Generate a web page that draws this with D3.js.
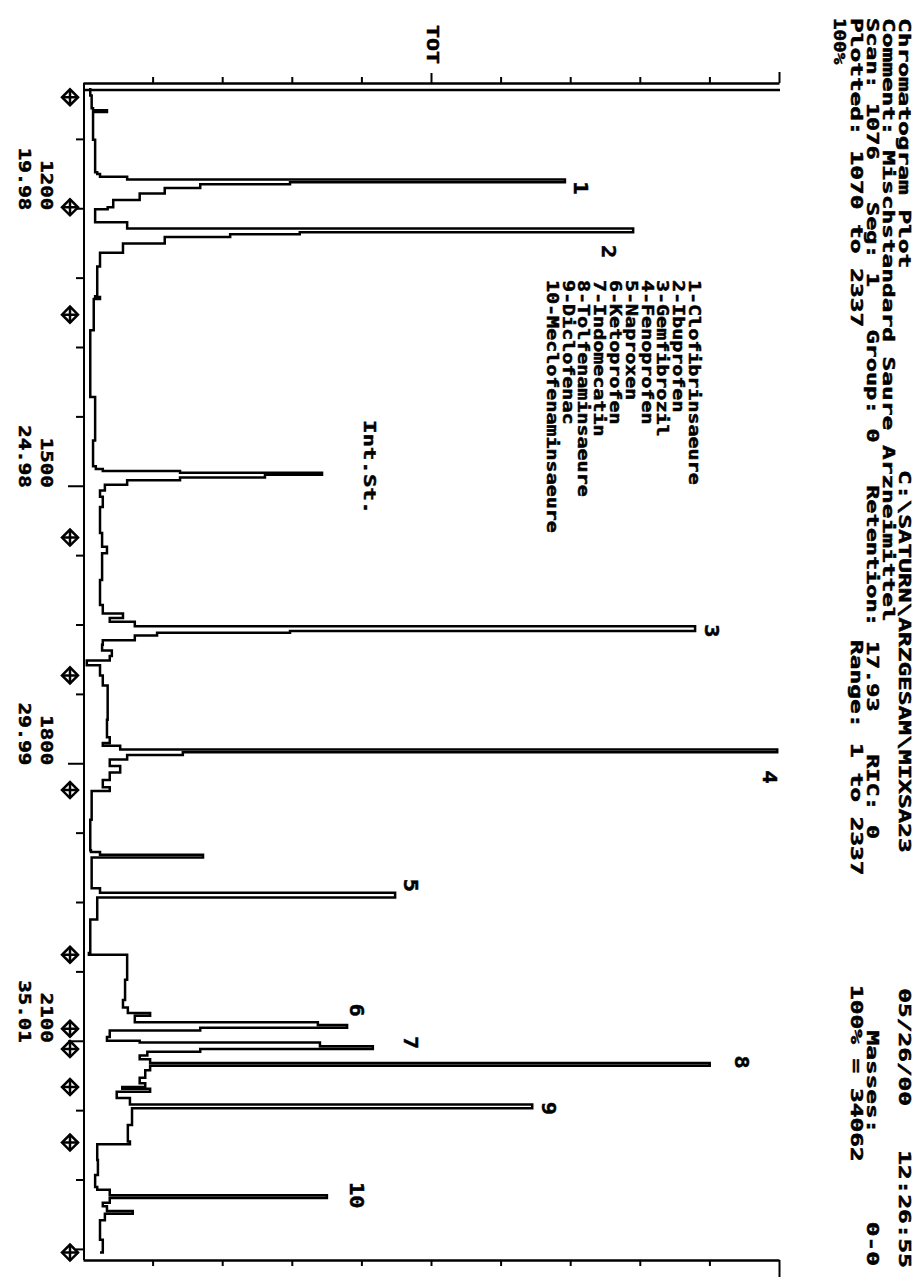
<!DOCTYPE html>
<html>
<head>
<meta charset="utf-8">
<script src="https://cdn.jsdelivr.net/npm/d3@7/dist/d3.min.js"></script>
<style>
  body { margin: 0; background: #fff; }
  svg { display: block; }
  text { font-family: "DejaVu Sans Mono", monospace; font-weight: bold; fill: #000;
         stroke: #000; stroke-width: 0.5; white-space: pre; }
</style>
</head>
<body>
<svg id="chart" width="922" height="1280"></svg>
<script>
// total ion trace (scan number, % of full scale)
const scans = [1070,1078,1092,1094,1096,1126,1161,1163,1166,1169,1172,1174,1178,1184,1191,1199,1201,1213,
  1215,1222,1226,1228,1231,1238,1248,1263,1295,1296,1298,1332,1404,1451,1479,1482,1484,1486,1488,1491,
  1494,1499,1505,1512,1523,1551,1566,1573,1602,1629,1638,1643,1647,1652,1657,1659,1662,1667,1672,1678,
  1684,1689,1694,1705,1716,1732,1753,1772,1778,1781,1785,1788,1791,1796,1803,1810,1818,1826,1830,1861,
  1894,1896,1899,1902,1932,1935,1940,1945,1969,2005,2007,2034,2056,2064,2070,2073,2077,2080,2083,2086,
  2089,2096,2100,2102,2106,2109,2112,2116,2120,2124,2127,2132,2140,2146,2150,2152,2155,2162,2165,2169,
  2173,2191,2209,2212,2229,2245,2258,2261,2267,2270,2275,2279,2284,2287,2294,2315,2329];
const tot = [0.9,1.1,1.3,3.3,1.3,1.6,1.9,2.3,6.2,69.1,29.6,16.7,11.6,8.0,4.2,3.4,1.6,1.6,
  6.2,78.9,31.0,21.0,11.6,5.6,2.3,1.9,1.6,2.3,1.4,0.9,1.6,1.3,1.7,2.7,13.8,34.2,26.0,13.8,
  6.2,3.0,2.3,2.7,2.3,2.6,3.3,2.6,2.3,2.7,5.6,3.7,7.3,87.8,29.6,10.5,7.3,2.7,2.6,4.0,
  3.7,0.4,2.3,2.7,3.4,3.4,3.3,3.7,2.7,5.2,99.6,14.2,6.2,3.7,5.2,3.7,2.7,3.7,1.1,0.9,
  1.0,2.3,17.1,1.1,1.1,2.3,44.7,1.9,0.9,0.7,6.2,5.9,5.6,6.3,9.5,7.3,7.3,33.6,37.8,16.7,
  3.7,3.3,8.0,33.9,41.5,16.7,9.1,8.0,9.5,89.9,9.5,8.8,8.0,8.8,5.5,9.5,4.7,6.6,6.6,64.4,
  6.9,6.3,6.6,1.9,2.0,1.6,1.9,3.7,34.9,3.7,2.7,3.3,7.0,3.0,2.3,2.7,2.3];

// peak numbers and where they are written (scan, %)
const peakIds = ["1","2","3","4","5","6","7","8","9","10"];
const peakLabelScan = [1178,1247,1657,1815,1932,2067,2102,2123,2173,2267];
const peakLabelPct = [71.4,75.4,90.2,98.6,47.0,39.2,47.0,94.5,66.8,39.2];

const compounds = ["1-Clofibrinsaeure","2-Ibuprofen","3-Gemfibrozil","4-Fenoprofen","5-Naproxen",
  "6-Ketoprofen","7-Indomecatin","8-Tolfenaminsaeure","9-Diclofenac","10-Meclofenaminsaeure"];

const markerScans = [1080,1199,1315,1556,1705,1829,2007,2087,2109,2150,2210,2329];

const scanMajor = [1200,1500,1800,2100];
const timeLabels = ["19.98","24.98","29.99","35.01"];
const scanMinor = [1125,1275,1350,1425,1575,1650,1725,1875,1950,2025,2175,2250,2325];
const pctTicks = [10,20,30,40,50,60,70,80,90,100];

// the plot is drawn lying on its side: build it landscape, then turn it 90 degrees
const svg = d3.select('#chart');
const g = svg.append('g').attr('transform', 'translate(922,0) rotate(90)');

const x = d3.scaleLinear().domain([1070, 2337]).range([88, 1260]);
const y = d3.scaleLinear().domain([0, 100]).range([838, 142]);

function txt(str, u, v, sx, size, anchor) {
  return g.append('text')
    .attr('xml:space', 'preserve')
    .attr('transform', 'translate(' + u + ',' + v + ') scale(' + sx + ',1)')
    .attr('font-size', size)
    .attr('text-anchor', anchor || 'start')
    .text(str);
}

// header block
txt('Chromatogram Plot', 18, 23, 1.53, 16);
txt('C:\\SATURN\\ARZGESAM\\MIXSA23', 470, 23, 1.53, 16);
txt('05/26/00   12:26:55', 1268, 23, 1.53, 16, 'end');
txt('Comment: Mischstandard Saure Arzneimittel', 18, 39, 1.53, 16);
txt('Scan: 1076   Seg: 1   Group: 0   Retention: 17.93   RIC: 0', 18, 55, 1.47, 16);
txt('Masses:      0-0', 1266, 55, 1.53, 16, 'end');
txt('Plotted: 1070 to 2337', 18, 71, 1.53, 16);
txt('Range: 1 to 2337', 640, 71, 1.53, 16);
txt('100% = 34062', 985, 71, 1.53, 16);
txt('100%', 18, 88, 1.2, 16);
txt('TOT', 25, 495, 1.35, 16);

// scan axis (left side of the picture)
g.append('line')
  .attr('x1', 83).attr('x2', 1260)
  .attr('y1', y(0)).attr('y2', y(0))
  .attr('stroke', '#000').attr('stroke-width', 2);

const minorAxis = g.append('g').attr('transform', 'translate(0,' + y(0) + ')')
  .call(d3.axisBottom(x).tickValues(scanMinor).tickSize(8).tickFormat(''));
const majorAxis = g.append('g').attr('transform', 'translate(0,' + y(0) + ')')
  .call(d3.axisBottom(x).tickValues(scanMajor).tickSize(16).tickFormat(''));
[minorAxis, majorAxis].forEach(a => {
  a.select('.domain').remove();
  a.selectAll('line').attr('stroke', '#000').attr('stroke-width', 2);
});

scanMajor.forEach((s, i) => {
  txt(String(s), x(s) + 2, 881, 1.3, 16, 'end');
  txt(timeLabels[i], x(s) + 2, 903, 1.3, 16, 'end');
});

// intensity axes, top and bottom of the picture
const topAxis = g.append('g').attr('transform', 'translate(83,0)')
  .call(d3.axisLeft(y).tickValues(pctTicks).tickSize(6).tickSizeOuter(0).tickFormat(''));
topAxis.select('.domain').attr('stroke-width', 2.5);
topAxis.selectAll('.tick line').attr('stroke-width', 2)
  .attr('x2', d => d === 100 ? -11 : d === 50 ? -10 : -6);

g.append('line')
  .attr('x1', 90).attr('x2', 90)
  .attr('y1', y(0)).attr('y2', y(100))
  .attr('stroke', '#000').attr('stroke-width', 2.5);

const bottomAxis = g.append('g').attr('transform', 'translate(1260,0)')
  .call(d3.axisRight(y).tickValues(pctTicks).tickSize(6).tickSizeOuter(0).tickFormat(''));
bottomAxis.select('.domain').attr('stroke-width', 2.5);
bottomAxis.selectAll('.tick line').attr('stroke-width', 2)
  .attr('x2', d => d === 100 ? 17 : 6);

// markers along the scan axis
const mk = g.selectAll('.mk')
  .data(markerScans)
  .enter().append('g')
  .attr('class', 'mk')
  .attr('transform', d => 'translate(' + x(d) + ',852)');
mk.append('path')
  .attr('d', 'M0,-8L8,0L0,8L-8,0Z')
  .attr('fill', '#fff').attr('stroke', '#000').attr('stroke-width', 2.5);
mk.append('path')
  .attr('d', 'M-8,0H8M0,-8V8')
  .attr('stroke', '#000').attr('stroke-width', 2.5);

// the trace
const pts = scans.map((s, i) => [s, tot[i]]);
const line = d3.line()
  .x(d => x(d[0]))
  .y(d => y(d[1]))
  .curve(d3.curveStepAfter);

g.append('path')
  .datum(pts)
  .attr('d', line)
  .attr('fill', 'none')
  .attr('stroke', '#000')
  .attr('stroke-width', 2.5);

// peak numbers
peakIds.forEach((id, i) => {
  txt(id, x(peakLabelScan[i]), y(peakLabelPct[i]) + 7, 1.1, 20, 'middle');
});

// compound list
compounds.forEach((c, i) => {
  txt(c, 280, 233 + i * 15.8, 1.25, 16);
});
txt('Int.St.', 420, 558, 1.4, 16);
</script>
</body>
</html>
